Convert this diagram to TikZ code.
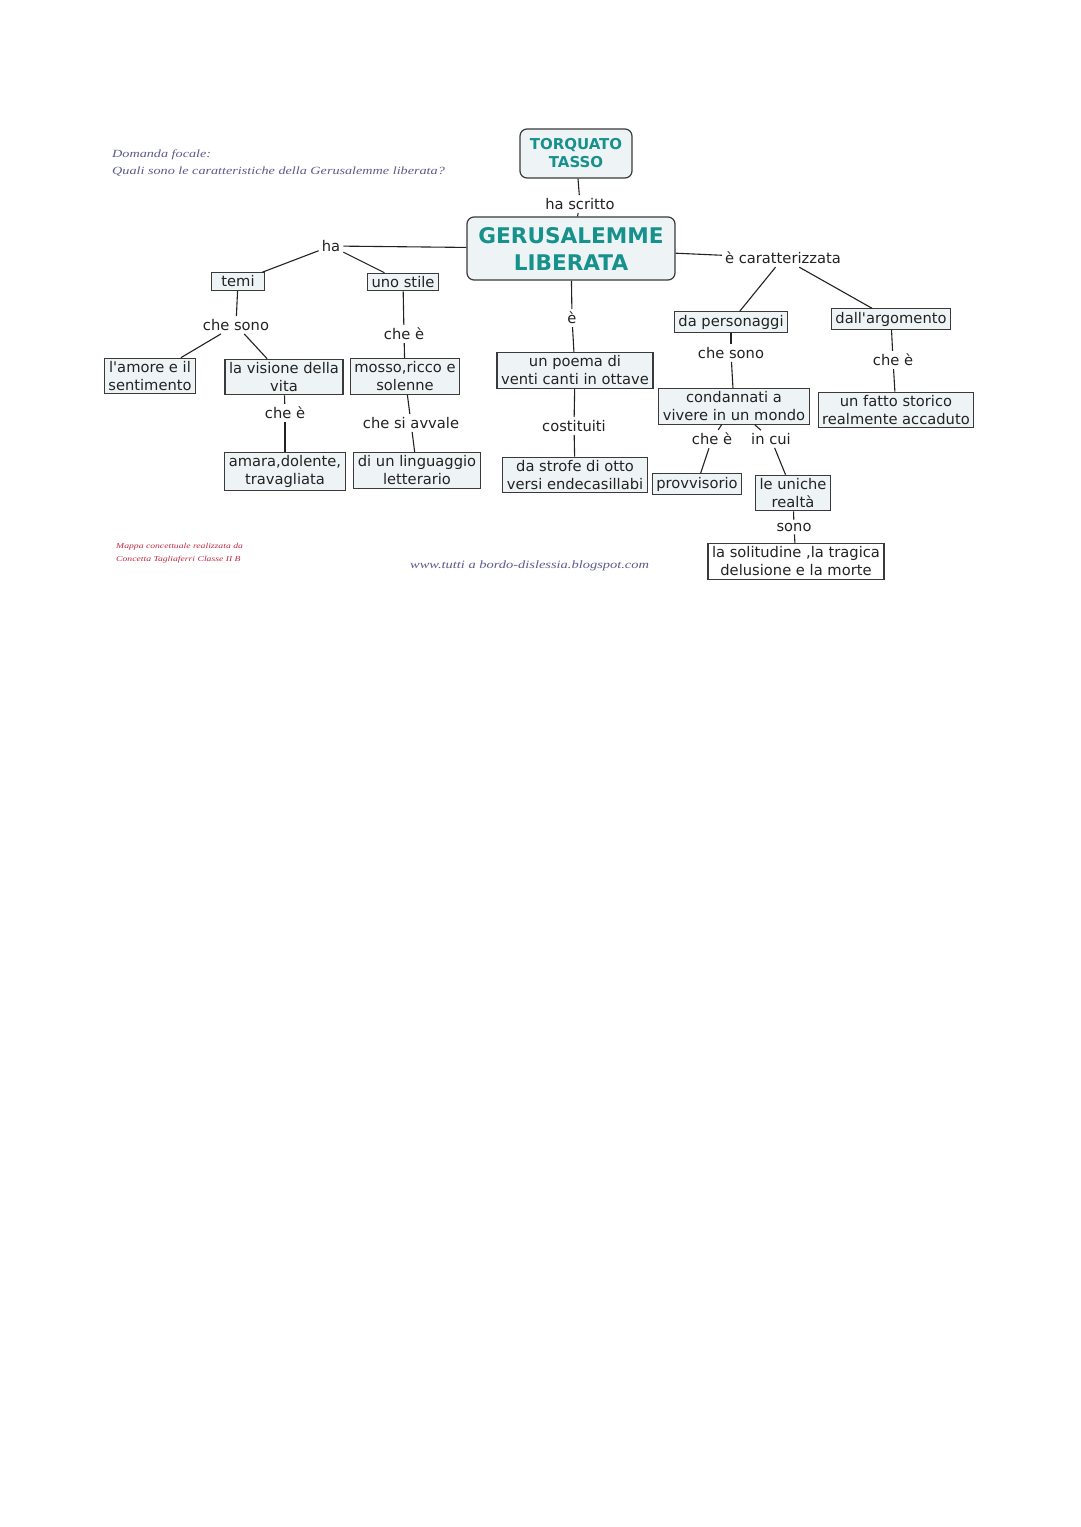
\documentclass[tikz,border=0pt]{standalone}
\usepackage{fontspec}
\setmainfont{DejaVu Sans}[Ligatures=TeXOff]
\newfontfamily\handfont{Liberation Serif}[FakeStretch=1.29]
\usetikzlibrary{positioning}
\definecolor{boxfill}{HTML}{EEF4F5}
\definecolor{boxline}{HTML}{3A3A3A}
\definecolor{tealtxt}{HTML}{17918C}
\definecolor{ink}{HTML}{222222}
\definecolor{note}{HTML}{5D5A8E}
\definecolor{signred}{HTML}{C42B45}

\begin{document}
\begin{tikzpicture}[x=1pt,y=-1pt,
 box/.style={draw=boxline,line width=1.2pt,fill=boxfill,inner xsep=4pt,inner ysep=3pt,align=center,text=ink,font=\fontsize{14.7}{18}\selectfont},
 main/.style={box,rounded corners=7pt,text=tealtxt},
 lab/.style={inner sep=3pt,text=ink,font=\fontsize{14.7}{18}\selectfont},
 link/.style={draw=ink,line width=1.1pt},
 hand/.style={anchor=base west,inner sep=0pt,text=note,font=\handfont\itshape\fontsize{11}{13}\selectfont}]
 \fill[white] (0,0) rectangle (1080,1527);
 \useasboundingbox (0,0) rectangle (1080,1527);
 % focal question and notes
 \node[hand] (dom) at (112,157) {Domanda focale:};
 \node[hand] (qq) at (112,174) {Quali sono le caratteristiche della Gerusalemme liberata?};
 \node[hand,text=signred,font=\handfont\itshape\fontsize{7.5}{9}\selectfont] (m1) at (116,548) {Mappa concettuale realizzata da};
 \node[hand,text=signred,font=\handfont\itshape\fontsize{7.5}{9}\selectfont] (m2) at (116,561) {Concetta Tagliaferri Classe II B};
 \node[hand,font=\handfont\itshape\fontsize{11.2}{14}\selectfont] (url) at (410,568) {www.tutti a bordo-dislessia.blogspot.com};
 % main concepts
 \node[main,minimum width=112,minimum height=49,font=\fontsize{15}{18}\selectfont\bfseries] (tt) at (576,153.5) {TORQUATO\\TASSO};
 \node[main,minimum width=208,minimum height=63,font=\fontsize{21.6}{27}\selectfont\bfseries] (gl) at (571,248.5) {GERUSALEMME\\LIBERATA};
 \node[lab] (hs) at (580,204) {ha scritto};
 % left branch
 \node[lab] (ha) at (331,246) {ha};
 \node[box,minimum width=53] (temi) at (238,281.5) {temi};
 \node[box] (stile) at (403,282) {uno stile};
 \node[lab] (chesono) at (236,325) {che sono};
 \node[box] (amore) at (150,376) {l'amore e il\\sentimento};
 \node[box] (visione) at (284,377) {la visione della\\vita};
 \node[lab] (cheEv) at (285,413) {che è};
 \node[box] (amara) at (285,471.5) {amara,dolente,\\travagliata};
 \node[lab] (cheEs) at (404,334) {che è};
 \node[box] (mosso) at (405,376.5) {mosso,ricco e\\solenne};
 \node[lab] (avvale) at (411,423) {che si avvale};
 \node[box] (ling) at (417,470.5) {di un linguaggio\\letterario};
 % middle branch
 \node[lab] (eL) at (572,318) {è};
 \node[box] (poema) at (575,370.5) {un poema di\\venti canti in ottave};
 \node[lab] (cost) at (574,426) {costituiti};
 \node[box] (strofe) at (575,475) {da strofe di otto\\versi endecasillabi};
 % right branch
 \node[lab] (caratt) at (783,258) {è caratterizzata};
 \node[box] (pers) at (731,322) {da personaggi};
 \node[box] (arg) at (891,319) {dall'argomento};
 \node[lab] (chesonoP) at (731,353) {che sono};
 \node[lab] (cheEa) at (893,360) {che è};
 \node[box] (cond) at (734,406.5) {condannati a\\vivere in un mondo};
 \node[box] (fatto) at (896,410) {un fatto storico\\realmente accaduto};
 \node[lab] (cheEc) at (712,439) {che è};
 \node[lab] (incui) at (771,439) {in cui};
 \node[box] (provv) at (697,484) {provvisorio};
 \node[box] (uniche) at (793,493) {le uniche\\realtà};
 \node[lab] (sono) at (794,527) {sono};
 \node[box,fill=white] (solit) at (796,561.5) {la solitudine ,la tragica\\delusione e la morte};
 % links
 \draw[link] (tt) -- (hs);
 \draw[link] (hs) -- (gl);
 \draw[link] (gl) -- (ha);
 \draw[link] (ha) -- (temi);
 \draw[link] (ha) -- (stile);
 \draw[link] (temi) -- (chesono);
 \draw[link] (chesono) -- (amore);
 \draw[link] (chesono) -- (visione);
 \draw[link] (visione) -- (cheEv);
 \draw[link] (cheEv) -- (amara);
 \draw[link] (stile) -- (cheEs);
 \draw[link] (cheEs) -- (mosso);
 \draw[link] (mosso) -- (avvale);
 \draw[link] (avvale) -- (ling);
 \draw[link] (gl) -- (eL);
 \draw[link] (eL) -- (poema);
 \draw[link] (poema) -- (cost);
 \draw[link] (cost) -- (strofe);
 \draw[link] (gl) -- (caratt);
 \draw[link] (caratt) -- (pers);
 \draw[link] (caratt) -- (arg);
 \draw[link] (pers) -- (chesonoP);
 \draw[link] (chesonoP) -- (cond);
 \draw[link] (arg) -- (cheEa);
 \draw[link] (cheEa) -- (fatto);
 \draw[link] (cond) -- (cheEc);
 \draw[link] (cheEc) -- (provv);
 \draw[link] (cond) -- (incui);
 \draw[link] (incui) -- (uniche);
 \draw[link] (uniche) -- (sono);
 \draw[link] (sono) -- (solit);
\end{tikzpicture}
\end{document}
